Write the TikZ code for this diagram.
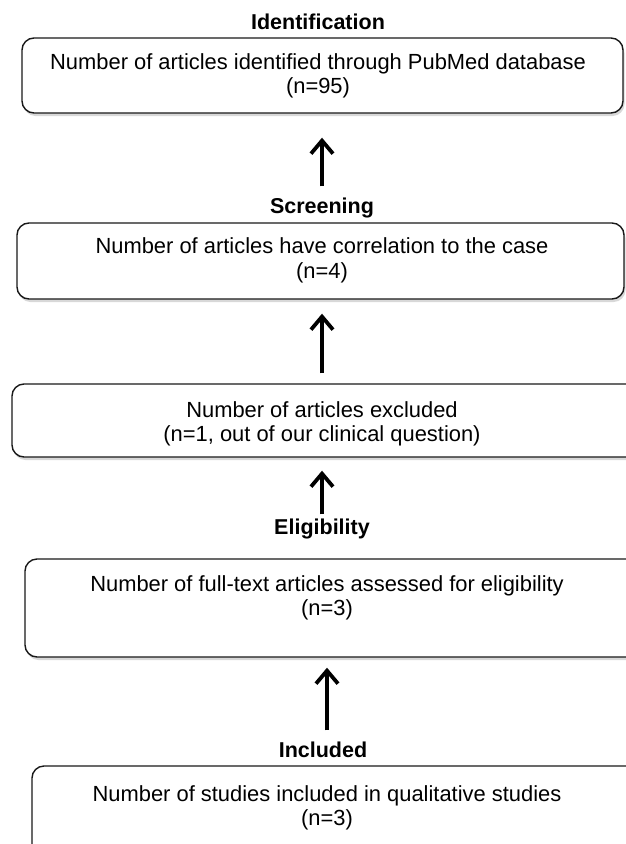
\documentclass[tikz,border=0pt]{standalone}
\usepackage{fontspec}
\setmainfont{Liberation Sans}
\usetikzlibrary{arrows.meta,shadows}
\tikzset{
  box/.style={draw=black!90, line width=1.4pt, rounded corners=12pt, fill=white,
    inner sep=0pt, drop shadow={shadow xshift=1.5pt, shadow yshift=-3pt, fill=black!25, opacity=0.6}},
  txt/.style={align=center, inner sep=0pt, font=\fontsize{21.9}{24.5}\selectfont},
  lab/.style={inner sep=0pt, font=\fontsize{21.5}{24.5}\selectfont\bfseries},
  arr/.style={line width=3.8pt, -{Straight Barb[length=13pt,width=22pt]}}
}
\begin{document}
\begin{tikzpicture}[x=1pt,y=-1pt]
\useasboundingbox (0,0) rectangle (625,844);
\fill[white] (-10,-10) rectangle (700,900);
% boxes
\node[box, minimum width=601pt, minimum height=75pt] (b1) at (322.5,75.5) {};
\node[box, minimum width=607pt, minimum height=76pt] (b2) at (320.5,261) {};
\node[box, minimum width=668pt, minimum height=73pt] (b3) at (346,420.5) {};
\node[box, minimum width=655pt, minimum height=98pt] (b4) at (352.5,608) {};
\node[box, minimum width=648pt, minimum height=114pt] (b5) at (356,823) {};
% texts
\node[txt] (t1) at (318,76) {Number of articles identified through PubMed database\\(n=95)};
\node[txt] (t2) at (322,260.5) {Number of articles have correlation to the case\\(n=4)};
\node[txt] (t3) at (322,424) {Number of articles excluded\\(n=1, out of our clinical question)};
\node[txt] (t4) at (327,598) {Number of full-text articles assessed for eligibility\\(n=3)};
\node[txt] (t5) at (327,808) {Number of studies included in qualitative studies\\(n=3)};
% stage labels
\node[lab] (l1) at (318,22) {Identification};
\node[lab] (l2) at (322,208) {Screening};
\node[lab] (l3) at (322,529) {Eligibility};
\node[lab] (l4) at (323,750) {Included};
% arrows
\draw[arr, shorten <=36pt, shorten >=24pt] (l2 |- b2.north) -- (l2 |- b1.south);
\draw[arr, shorten <=10pt, shorten >=14pt] (t3 |- b3.north) -- (t3 |- b2.south);
\draw[arr, shorten <=44pt, shorten >=13pt] (l3 |- b4.north) -- (l3 |- b3.south);
\draw[arr, shorten <=35pt, shorten >=10pt] (t5 |- b5.north) -- (t5 |- b4.south);
\end{tikzpicture}
\end{document}
